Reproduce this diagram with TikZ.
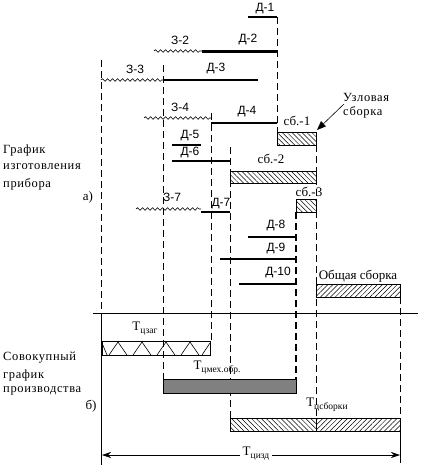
\documentclass[tikz,border=0pt]{standalone}
\usepackage{fontspec}
\setmainfont{Liberation Serif}
\newfontfamily\arialf{Liberation Sans}
\newfontfamily\spacedf[LetterSpace=5]{Liberation Serif}
\usetikzlibrary{patterns.meta,decorations.pathmorphing,arrows.meta}
\begin{document}
\begin{tikzpicture}[x=1pt,y=-1pt,
  dsh/.style={dash pattern=on 7pt off 4pt, line width=0.8pt},
  tdsh/.style={dash pattern=on 7pt off 4pt, line width=2pt},
  part/.style={line width=2pt},
  wave/.style={decorate, decoration={snake, amplitude=1.3pt, segment length=5pt}, line width=0.6pt},
  dl/.style={font=\arialf\fontsize{12}{13}\selectfont, inner sep=0pt},
  sl/.style={font=\fontsize{13}{14}\selectfont, inner sep=0pt},
  ll/.style={font=\spacedf\fontsize{12.5}{14}\selectfont, inner sep=0pt, anchor=west},
  nwh/.style={draw, line width=0.8pt, pattern={Lines[angle=-45,distance=3.5pt,line width=0.5pt]}},
  neh/.style={draw, line width=0.8pt, pattern={Lines[angle=45,distance=3.5pt,line width=0.5pt]}},
]
\useasboundingbox (0,0) rectangle (425,474);
% vertical guide lines
\draw[dsh] (101,60) -- (101,313);
\draw[line width=0.8pt] (101,313) -- (101,465);
\draw[dsh] (163,65) -- (163,379);
\draw[dsh] (211,113) -- (211,341);
\draw[dsh] (230,147) -- (230,418);
\draw[dsh] (277,17) -- (277,132);
\draw[dsh] (316,145) -- (316,418);
\draw[tdsh] (296,212) -- (296,379);
\draw[dsh] (400,297) -- (400,418);
\draw[line width=0.8pt] (400,431) -- (400,463);
% separator
\draw[line width=0.8pt] (93,313) -- (418,313);
% detail lines
\draw[line width=1.4pt] (248,17) -- (277,17);
\draw[line width=3pt] (202,51) -- (277,51);
\draw[part] (163,80) -- (258,80);
\draw[part] (211,123) -- (277,123);
\draw[part] (172,145) -- (201,145);
\draw[part] (172,161) -- (230,161);
\draw[part] (201,212) -- (230,212);
\draw[part] (248,237) -- (296,237);
\draw[part] (220,259) -- (296,259);
\draw[part] (239,284) -- (296,284);
% blanks (waves)
\draw[wave] (154,51) -- (202,51);
\draw[wave] (101,80) -- (163,80);
\draw[wave] (144,118) -- (211,118);
\draw[wave] (136,209) -- (201,209);
% labels
\node[dl] (d1) at (265,9) {Д-1};
\node[dl] (z2) at (180,40) {З-2};
\node[dl] (d2) at (248,40) {Д-2};
\node[dl] (z3) at (135,69) {З-3};
\node[dl] (d3) at (216,69) {Д-3};
\node[dl] (z4) at (180,107) {З-4};
\node[dl] (d4) at (247,112) {Д-4};
\node[dl] (d5) at (190,136) {Д-5};
\node[dl] (d6) at (190,153) {Д-6};
\node[dl] (z7) at (172,197) {З-7};
\node[dl] (d7) at (221,204) {Д-7};
\node[dl] (d8) at (276,226) {Д-8};
\node[dl] (d9) at (276,249) {Д-9};
\node[dl] (d10) at (278,273) {Д-10};
% assemblies
\draw[nwh] (277,132) rectangle (316,145);
\draw[nwh] (230,171) rectangle (316,183);
\draw[nwh] (296,199) rectangle (316,212);
\draw[neh] (316,284) rectangle (400,297);
\node[sl] (s1) at (297,121) {сб.-1};
\node[sl] (s2) at (271,159) {сб.-2};
\node[sl] (s3) at (309,192) {сб.-3};
\node[sl] (ob) at (358,276) {Общая сборка};
\node[ll, align=left] (uz) at (343,106) {Узловая\\сборка};
\coordinate (uzs) at (344,104);
\coordinate (uzt) at (317,130);
\draw[line width=0.6pt, -{Triangle[length=9pt,width=7pt]}] (uzs) -- (uzt);
% left texts
\node[ll] (g1) at (3,150) {График};
\node[ll] (g2) at (3,167) {изготовления};
\node[ll] (g3) at (3,184) {прибора};
\node[sl] (a) at (88,197) {а)};
\node[ll] (c1) at (3,358) {Совокупный};
\node[ll] (c2) at (3,375) {график};
\node[ll] (c3) at (3,391) {производства};
\node[sl] (b) at (91,406) {б)};
% aggregate bars
\draw[line width=0.8pt] (102,341) rectangle (210,355);
\draw[line width=0.6pt] (102,343) -- (107,355);
\foreach \p in {118,142,166,190}{
  \draw[line width=0.6pt] (\p-9,355) -- (\p,342) -- (\p+9,355);
}
\draw[line width=0.6pt] (202,355) -- (210,343);
\node[sl] (tz) at (145,329) {Т\raisebox{-0.5ex}{\fontsize{9.5}{10}\selectfont цзаг}};
\draw[line width=0.8pt, fill=gray] (163,379) rectangle (296,393);
\node[sl] (tm) at (217,368) {Т\raisebox{-0.5ex}{\fontsize{9.5}{10}\selectfont цмех.обр.}};
\draw[nwh] (230,418) rectangle (316,431);
\draw[neh] (316,418) rectangle (400,431);
\node[sl] (ts) at (327,405) {Т\raisebox{-0.5ex}{\fontsize{9.5}{10}\selectfont цсборки}};
% cycle dimension
\coordinate (cl) at (102,455);
\coordinate (cr) at (400,455);
\draw[line width=0.6pt, {Stealth[length=9pt,width=6pt]}-{Stealth[length=9pt,width=6pt]}] (cl) -- (cr);
\node[sl, fill=white, inner sep=3pt] (ti) at (256,454) {Т\raisebox{-0.5ex}{\fontsize{9.5}{10}\selectfont цизд}};
\end{tikzpicture}
\end{document}
